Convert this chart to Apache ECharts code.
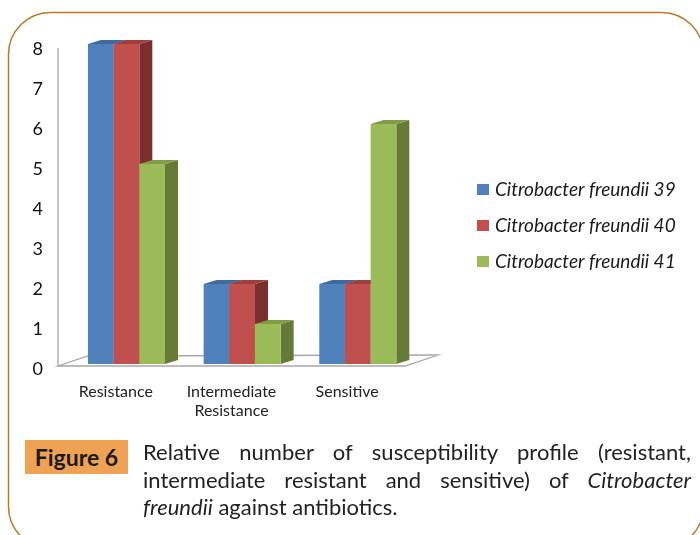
<!DOCTYPE html>
<html>
<head>
<meta charset="utf-8">
<script src="https://cdn.jsdelivr.net/npm/echarts@6/dist/echarts.min.js"></script>
<style>
html,body{margin:0;padding:0;background:#fff;}
#wrap{position:relative;width:700px;height:535px;overflow:hidden;}
#chart{position:absolute;left:0;top:0;width:700px;height:535px;}
#figlabel{position:absolute;left:25px;top:440px;width:103px;height:34px;background:#F0A254;color:#1a1a1a;font-family:Lato,sans-serif;font-weight:bold;font-size:23px;line-height:34px;text-align:center;}
#caption{position:absolute;left:143px;top:438px;width:548px;font-family:Lato,sans-serif;font-size:22px;line-height:27.5px;color:#222;text-align:justify;}
</style>
</head>
<body>
<div id="wrap">
<div id="chart"></div>
<div id="figlabel">Figure 6</div>
<div id="caption">Relative number of susceptibility profile (resistant, intermediate resistant and sensitive) of <i>Citrobacter freundii</i> against antibiotics.</div>
</div>
<script>
var categories = ['Resistance', 'Intermediate\nResistance', 'Sensitive'];
var seriesNames = ['Citrobacter freundii 39', 'Citrobacter freundii 40', 'Citrobacter freundii 41'];
var cf39 = [8, 2, 2];
var cf40 = [8, 2, 2];
var cf41 = [5, 1, 6];
var yTicks = [0, 1, 2, 3, 4, 5, 6, 7, 8];

var frontColors = ['#4F81BD', '#C0504D', '#9BBB59'];
var topColors = ['#3E6A9E', '#9E3F3C', '#7F9C47'];
var sideColors = ['#385D8A', '#7B2F2D', '#667A38'];
var DX = 13, DY = 4, LIFT = 5;

var chart = echarts.init(document.getElementById('chart'));

function barRender(sIdx) {
  return function (params, api) {
    var i = api.value(0), v = api.value(1);
    var top = api.coord([i, v]);
    var base = api.coord([i, 0]);
    var band = api.size([1, 0])[0];
    var bw = band * 0.222;
    var left = top[0] - 1.5 * bw + sIdx * bw + band * 0.092;
    var y1 = top[1] - LIFT, y0 = base[1] - LIFT;
    return {
      type: 'group',
      children: [
        {type: 'polygon', shape: {points: [[left + bw, y1], [left + bw + DX, y1 - DY], [left + bw + DX, y0 - DY], [left + bw, y0]]}, style: {fill: sideColors[sIdx]}},
        {type: 'polygon', shape: {points: [[left, y1], [left + DX, y1 - DY], [left + bw + DX, y1 - DY], [left + bw, y1]]}, style: {fill: topColors[sIdx]}},
        {type: 'rect', shape: {x: left, y: y1, width: bw, height: y0 - y1}, style: {fill: frontColors[sIdx]}}
      ]
    };
  };
}

function frameRender(params, api) {
  var band = api.size([1, 0])[0];
  var c0 = api.coord([0, 0]);
  var cTop = api.coord([0, yTicks[yTicks.length - 1]]);
  var x0 = c0[0] - band / 2;
  var x1 = x0 + band * categories.length;
  var y0 = c0[1] - 3;
  return {
    type: 'group',
    children: [
      {type: 'polygon', shape: {points: [[x0, y0], [x1, y0], [x1 + 33, y0 - 11], [x0 + 30, y0 - 10]]}, style: {fill: '#fff', stroke: '#A6A6A6', lineWidth: 1.3}},
      {type: 'line', shape: {x1: x0, y1: cTop[1] - 1, x2: x0, y2: y0}, style: {stroke: '#A6A6A6', lineWidth: 1.3}}
    ]
  };
}

function mk(idx, data) {
  return {
    name: seriesNames[idx], type: 'custom', renderItem: barRender(idx),
    itemStyle: {color: frontColors[idx]},
    encode: {x: 0, y: 1},
    data: data.map(function (v, i) { return [i, v]; }),
    z: 3
  };
}

chart.setOption({
  animation: false,
  backgroundColor: 'transparent',
  graphic: [{
    type: 'rect', shape: {x: 8.5, y: 12.5, width: 695, height: 536, r: 42},
    style: {fill: 'none', stroke: '#B8782E', lineWidth: 1.5}, z: 0
  }],
  grid: {left: 58, right: 295, top: 49, bottom: 166},
  legend: {
    orient: 'vertical', left: 472, top: 175, itemWidth: 12, itemHeight: 11, itemGap: 17,
    icon: 'rect',
    data: seriesNames,
    textStyle: {fontFamily: 'Lato', fontStyle: 'italic', fontSize: 19, color: '#1a1a1a', padding: [0, 0, 0, 1]}
  },
  xAxis: {
    type: 'category', data: categories,
    axisLine: {show: false}, axisTick: {show: false},
    axisLabel: {margin: 13, fontFamily: 'Lato', fontSize: 16, color: '#222', lineHeight: 19, interval: 0}
  },
  yAxis: {
    type: 'value', min: 0, max: 8, interval: 1,
    axisLine: {show: false}, axisTick: {show: false}, splitLine: {show: false},
    axisLabel: {margin: 15, fontFamily: 'Lato', fontSize: 18, color: '#111'}
  },
  series: [
    {type: 'custom', renderItem: frameRender, data: [[0, 0]], encode: {x: 0, y: 1}, z: 1, silent: true, legendHoverLink: false},
    mk(0, cf39), mk(1, cf40), mk(2, cf41)
  ]
});
</script>
</body>
</html>
